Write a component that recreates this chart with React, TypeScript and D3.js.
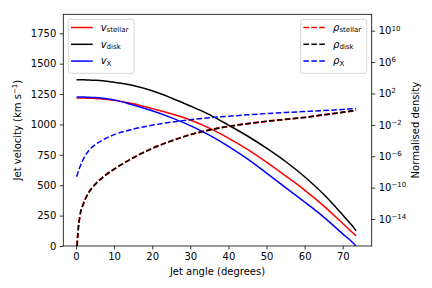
import React, { useEffect, useRef } from 'react';
import * as d3 from 'd3';

// jet angle in degrees, shared by every series
const angles = [0.15, 0.5, 1, 2, 3.5, 5, 7.5, 10, 15, 20, 25, 30, 35, 40, 45, 50, 55, 60, 65, 70, 72.4, 73.5];

// jet velocities (km/s)
const vStellar = [1218, 1218, 1218, 1217, 1215, 1214, 1208, 1199, 1170, 1130, 1088, 1037, 970, 888, 795, 690, 577, 460, 330, 185, 115, 84];
const vDisk = [1368, 1368, 1368, 1367, 1365, 1363, 1357, 1347, 1321, 1277, 1218, 1152, 1081, 995, 905, 805, 695, 570, 425, 255, 170, 125];
const vX = [1226, 1226, 1226, 1225, 1223, 1221, 1213, 1202, 1160, 1112, 1056, 990, 912, 820, 716, 600, 480, 362, 238, 100, 35, 0];

// normalised densities, as log10 exponents
const logRhoStellar = [-18.5, -15.8, -13.7, -12.0, -10.5, -9.6, -8.5, -7.65, -6.2, -5.0, -4.05, -3.25, -2.65, -2.2, -1.85, -1.55, -1.3, -1.05, -0.72, -0.4, -0.24, -0.16];
const logRhoDisk = [-18.5, -15.8, -13.7, -12.0, -10.5, -9.6, -8.5, -7.65, -6.2, -5.0, -4.05, -3.25, -2.65, -2.2, -1.85, -1.55, -1.3, -1.05, -0.72, -0.4, -0.24, -0.16];
const logRhoX = [-8.6, -8.1, -7.4, -6.3, -5.2, -4.55, -3.8, -3.25, -2.55, -2.05, -1.65, -1.35, -1.1, -0.9, -0.72, -0.56, -0.42, -0.3, -0.18, -0.04, 0.04, 0.08];

const xTicks = [0, 10, 20, 30, 40, 50, 60, 70];
const vTicks = [0, 250, 500, 750, 1000, 1250, 1500, 1750];
const rhoTickExps = [-14, -10, -6, -2, 2, 6, 10];

const velSeries = [
  { label: 'stellar', color: 'red', values: vStellar },
  { label: 'disk', color: 'black', values: vDisk },
  { label: 'X', color: 'blue', values: vX },
];
const rhoSeries = [
  { label: 'stellar', color: 'red', values: logRhoStellar },
  { label: 'disk', color: 'black', values: logRhoDisk },
  { label: 'X', color: 'blue', values: logRhoX },
];

const font = 'DejaVu Sans';

const App: React.FC = () => {
  const ref = useRef<SVGSVGElement>(null);

  useEffect(() => {
    if (!ref.current) return;
    const svg = d3.select(ref.current);
    svg.selectAll('*').remove();

    const left = 63.3, right = 371.7, top = 14.3, bottom = 246;

    const x = d3.scaleLinear().domain([-3.33, 77.6]).range([left, right]);
    const yV = d3.scaleLinear().domain([0, 1906]).range([bottom, top]);
    const yR = d3.scaleLog().domain([10 ** -17.44, 10 ** 12.09]).range([bottom, top]);

    svg.append('rect').attr('width', 432).attr('height', 288).attr('fill', 'white');

    svg.append('clipPath').attr('id', 'plot-clip')
      .append('rect')
      .attr('x', left).attr('y', top)
      .attr('width', right - left).attr('height', bottom - top);

    const plot = svg.append('g').attr('clip-path', 'url(#plot-clip)');

    velSeries.forEach(s => {
      const line = d3.line<number>()
        .x((_, i) => x(angles[i]))
        .y(d => yV(d))
        .curve(d3.curveMonotoneX);
      plot.append('path')
        .datum(s.values)
        .attr('fill', 'none')
        .attr('stroke', s.color)
        .attr('stroke-width', 1.5)
        .attr('d', line);
    });

    rhoSeries.forEach(s => {
      const line = d3.line<number>()
        .x((_, i) => x(angles[i]))
        .y(d => yR(10 ** d))
        .curve(d3.curveMonotoneX);
      plot.append('path')
        .datum(s.values)
        .attr('fill', 'none')
        .attr('stroke', s.color)
        .attr('stroke-width', s.color === 'red' ? 1.9 : 1.5)
        .attr('stroke-dasharray', '5.55,2.4')
        .attr('d', line);
    });

    // frame
    svg.append('rect')
      .attr('x', left).attr('y', top)
      .attr('width', right - left).attr('height', bottom - top)
      .attr('fill', 'none').attr('stroke', 'black').attr('stroke-width', 0.8);

    const styleAxis = (g: d3.Selection<SVGGElement, unknown, null, undefined>) => {
      g.select('.domain').remove();
      g.selectAll('line').attr('stroke', 'black').attr('stroke-width', 0.8);
      g.selectAll('text').attr('font-family', font).attr('font-size', 10).attr('fill', 'black');
    };

    svg.append('g')
      .attr('transform', `translate(0,${bottom})`)
      .call(d3.axisBottom(x).tickValues(xTicks).tickSize(3.5).tickPadding(3.5).tickFormat(d3.format('d')))
      .call(styleAxis);

    svg.append('g')
      .attr('transform', `translate(${left},0)`)
      .call(d3.axisLeft(yV).tickValues(vTicks).tickSize(3.5).tickPadding(3.5).tickFormat(d3.format('d')))
      .call(styleAxis);

    const rAxis = svg.append('g')
      .attr('transform', `translate(${right},0)`)
      .call(d3.axisRight(yR).tickValues(rhoTickExps.map(e => 10 ** e)).tickSize(3.5).tickPadding(3.5).tickFormat(() => ''))
      .call(styleAxis);

    rAxis.selectAll<SVGTextElement, number>('text').each(function (d) {
      const t = d3.select(this);
      const e = Math.round(Math.log10(d));
      t.attr('dy', '0.32em');
      t.append('tspan').text('10');
      t.append('tspan')
        .attr('font-size', 7)
        .attr('dy', '-0.55em')
        .text(e < 0 ? `\u2212${-e}` : `${e}`);
    });

    // axis labels
    svg.append('text')
      .attr('x', (left + right) / 2).attr('y', 275)
      .attr('text-anchor', 'middle')
      .attr('font-family', font).attr('font-size', 10)
      .text('Jet angle (degrees)');

    const yl = svg.append('text')
      .attr('transform', `translate(21,${(top + bottom) / 2}) rotate(-90)`)
      .attr('text-anchor', 'middle')
      .attr('font-family', font).attr('font-size', 10);
    yl.append('tspan').text('Jet velocity (km s');
    yl.append('tspan').attr('font-size', 7).attr('dy', '-0.55em').text('\u22121');
    yl.append('tspan').attr('dy', '0.385em').text(')');

    svg.append('text')
      .attr('transform', `translate(418.5,${(top + bottom) / 2}) rotate(-90)`)
      .attr('text-anchor', 'middle')
      .attr('font-family', font).attr('font-size', 10)
      .text('Normalised density');

    // legends
    const legend = (x0: number, w: number, sym: string, series: typeof velSeries, dashed: boolean) => {
      const g = svg.append('g');
      g.append('rect')
        .attr('x', x0).attr('y', 19.3).attr('width', w).attr('height', 54)
        .attr('rx', 2).attr('fill', 'white').attr('fill-opacity', 0.8)
        .attr('stroke', '#cccccc').attr('stroke-width', 0.8);
      series.forEach((s, i) => {
        const yy = 27.5 + i * 16.8;
        g.append('line')
          .attr('x1', x0 + 2.7).attr('x2', x0 + 24.4)
          .attr('y1', yy).attr('y2', yy)
          .attr('stroke', s.color).attr('stroke-width', 1.5)
          .attr('stroke-dasharray', dashed ? '5.55,2.4' : null);
        const t = g.append('text')
          .attr('x', x0 + 32.4).attr('y', yy + 3.3)
          .attr('font-family', font).attr('font-size', 10);
        t.append('tspan').attr('font-style', 'italic').text(sym);
        t.append('tspan').attr('font-size', 7).attr('dy', 1.6).text(s.label);
      });
    };
    legend(68.3, 65.7, 'v', velSeries, false);
    legend(300.7, 66, '\u03c1', rhoSeries, true);
  }, []);

  return (
    <svg
      ref={ref}
      width={432}
      height={288}
      style={{ position: 'absolute', left: 0, top: 0 }}
    />
  );
};

export default App;
